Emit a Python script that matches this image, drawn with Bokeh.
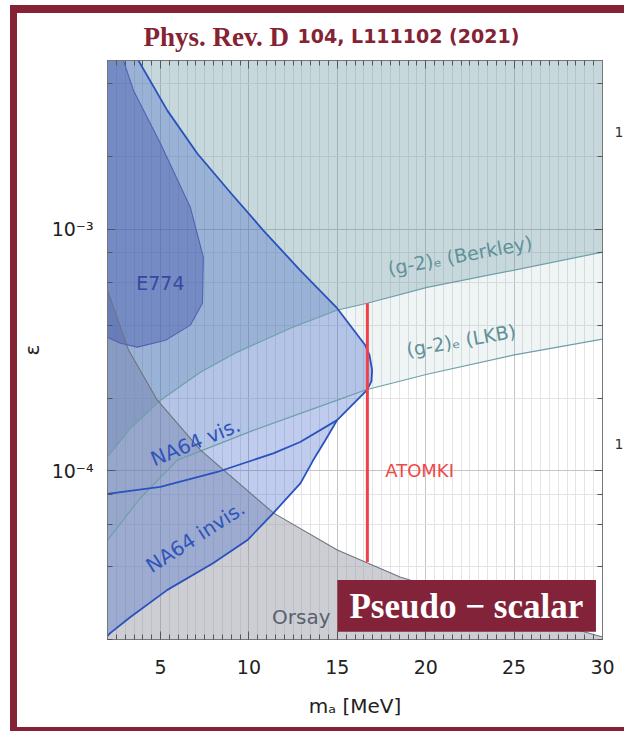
from bokeh.plotting import figure
from bokeh.models import (LinearAxis, LogAxis, SingleIntervalTicker, LogTicker,
                          Label, BoxAnnotation, Range1d, CustomJSTickFormatter)
from bokeh.embed import file_html
from bokeh.resources import INLINE

# ---------------- data ----------------
X_MIN, X_MAX = 2.0, 30.0
Y_MIN, Y_MAX = 2e-5, 5e-3

berkley_m = [2.0, 3.3, 5.0, 7.25, 9.34, 12.34, 14.97, 16.69, 20.08, 24.94, 30.0]
berkley_eps = [1.14e-4, 1.50e-4, 1.96e-4, 2.56e-4, 3.10e-4, 3.89e-4, 4.62e-4,
               4.94e-4, 5.75e-4, 6.76e-4, 8.04e-4]

lkb_m = [2.0, 3.86, 5.95, 10.25, 15.0, 16.58, 20.08, 24.94, 30.0]
lkb_eps = [5.16e-5, 7.71e-5, 1.107e-4, 1.47e-4, 1.96e-4, 2.16e-4, 2.51e-4,
           3.01e-4, 3.51e-4]

orsay_m = [2.0, 3.19, 4.82, 7.25, 11.38, 15.0, 18.55, 24.2, 30.0]
orsay_eps = [5.6e-4, 3.16e-4, 1.96e-4, 1.22e-4, 6.69e-5, 4.70e-5, 3.63e-5,
             2.70e-5, 2.05e-5]

na64_upper_m = [3.75, 5.39, 7.08, 8.95, 10.81, 12.90, 14.99, 16.58, 16.82, 16.97,
                16.93, 16.69, 14.99]
na64_upper_eps = [5.0e-3, 3.10e-3, 2.06e-3, 1.42e-3, 9.9e-4, 6.76e-4, 4.71e-4,
                  3.31e-4, 3.01e-4, 2.61e-4, 2.35e-4, 2.16e-4, 1.62e-4]
na64_mid_m = [14.99, 12.90, 11.38, 8.21, 4.99, 2.0]
na64_mid_eps = [1.62e-4, 1.315e-4, 1.18e-4, 9.88e-5, 8.57e-5, 8.02e-5]
na64_low_m = [14.99, 14.33, 13.64, 12.92, 11.38, 9.92, 7.99, 5.39, 3.30, 2.17, 2.0]
na64_low_eps = [1.62e-4, 1.34e-4, 1.107e-4, 8.89e-5, 6.68e-5, 5.16e-5, 4.15e-5,
                3.21e-5, 2.48e-5, 2.13e-5, 2.07e-5]

e774_m = [2.90, 3.47, 4.99, 6.69, 7.42, 7.37, 6.69, 5.28, 3.69, 2.73, 2.0]
e774_eps = [5.0e-3, 3.76e-3, 2.27e-3, 1.23e-3, 7.66e-4, 4.94e-4, 4.01e-4,
            3.47e-4, 3.25e-4, 3.37e-4, 3.57e-4]

atomki_m = [16.7, 16.7]
atomki_eps = [4.94e-4, 4.19e-5]

x_ticks_interval = 5
y_tick_labels = {0.001: "10⁻³", 0.0001: "10⁻⁴"}

# ---------------- colours ----------------
RED_FRAME = "#852234"
TEAL = "#5f8f99"
TEAL_LINE = "#6f9fa8"
BLUE = "#3c64c8"
BLUE_LINE = "#2a52bd"
E774_FILL = "#3c50aa"
GREY = "#8f92a0"

p = figure(width=624, height=731,
           x_range=Range1d(X_MIN, X_MAX), y_range=Range1d(Y_MIN, Y_MAX),
           y_axis_type="log", output_backend="svg", toolbar_location=None,
           min_border_left=107, min_border_right=22, min_border_top=60,
           min_border_bottom=92, background_fill_color="white",
           border_fill_alpha=0.0)
p.outline_line_color = "#888888"
# slide frame (dark-red bars at left, top and bottom), drawn behind the transparent border
p.styles = {
    "background-color": "#ffffff",
    "box-shadow": ("inset 10px 5px 0 0 #ffffff, inset 17px 13px 0 0 %s, "
                   "inset 0 -4px 0 0 %s") % (RED_FRAME, RED_FRAME),
}

xb = p.below[0]
yl = p.left[0]

p.xgrid.grid_line_color = "#c4c4c4"
p.xgrid.minor_grid_line_color = "#e4e4e4"
p.ygrid.grid_line_color = "#c4c4c4"
p.ygrid.minor_grid_line_color = "#e4e4e4"

xb.ticker = SingleIntervalTicker(interval=x_ticks_interval, num_minor_ticks=10)
yl.ticker = LogTicker()
yl.major_label_overrides = y_tick_labels

blank = CustomJSTickFormatter(code="return ''")
top_ax = LinearAxis(ticker=SingleIntervalTicker(interval=x_ticks_interval, num_minor_ticks=10),
                    formatter=blank, major_label_standoff=0)
right_ax = LogAxis(ticker=LogTicker(), formatter=blank, major_label_standoff=0)
p.add_layout(top_ax, "above")
p.add_layout(right_ax, "right")

for ax in (xb, yl, top_ax, right_ax):
    ax.major_tick_in = 8
    ax.major_tick_out = 0
    ax.minor_tick_in = 5
    ax.minor_tick_out = 0
    ax.axis_line_color = "#777777"
    ax.major_tick_line_color = "#555555"
    ax.minor_tick_line_color = "#555555"

for ax in (xb, yl):
    ax.major_label_text_font = "DejaVu Sans"
    ax.major_label_text_color = "#222222"
    ax.major_label_text_font_size = "19px"
    ax.axis_label_text_font = "DejaVu Sans"
    ax.axis_label_text_font_style = "normal"
    ax.axis_label_text_color = "#222222"
    ax.axis_label_text_font_size = "20px"

xb.axis_label = "mₐ [MeV]"
xb.major_label_standoff = 20
xb.axis_label_standoff = 17
yl.axis_label = "ε"
yl.major_label_standoff = 14
yl.axis_label_standoff = 5

# ---------------- regions ----------------
p.patch(lkb_m + [X_MAX, X_MIN], lkb_eps + [Y_MAX, Y_MAX],
        fill_color=TEAL, fill_alpha=0.10, line_color=None)
p.patch(berkley_m + [X_MAX, X_MIN], berkley_eps + [Y_MAX, Y_MAX],
        fill_color=TEAL, fill_alpha=0.28, line_color=None)
p.patch(orsay_m + [X_MAX, X_MIN], orsay_eps + [Y_MIN, Y_MIN],
        fill_color=GREY, fill_alpha=0.45, line_color=None)
p.patch(na64_upper_m + na64_mid_m[1:] + [X_MIN],
        na64_upper_eps + na64_mid_eps[1:] + [Y_MAX],
        fill_color=BLUE, fill_alpha=0.33, line_color=None)
p.patch(na64_low_m + na64_mid_m[::-1][:-1],
        na64_low_eps + na64_mid_eps[::-1][:-1],
        fill_color=BLUE, fill_alpha=0.33, line_color=None)
p.patch(e774_m + [X_MIN], e774_eps + [Y_MAX],
        fill_color=E774_FILL, fill_alpha=0.40, line_color=None)

p.line(lkb_m, lkb_eps, line_color=TEAL_LINE, line_width=1.2)
p.line(berkley_m, berkley_eps, line_color=TEAL_LINE, line_width=1.2)
p.line(orsay_m, orsay_eps, line_color="#70737f", line_width=1.1)
p.line(e774_m, e774_eps, line_color="#5561b3", line_width=1.1)
p.line(na64_upper_m + na64_low_m[1:], na64_upper_eps + na64_low_eps[1:],
       line_color=BLUE_LINE, line_width=1.8)
p.line(na64_mid_m, na64_mid_eps, line_color=BLUE_LINE, line_width=1.8)
p.line(atomki_m, atomki_eps, line_color="#f0404a", line_width=3)

# ---------------- labels ----------------
def lab(x, y, t, color, size, angle=0, align="center", font="DejaVu Sans",
        style="normal", baseline="middle", place="center"):
    p.add_layout(Label(x=x, y=y, text=t, text_color=color, text_font=font,
                       text_font_size=size, text_font_style=style,
                       angle=angle, angle_units="deg",
                       text_align=align, text_baseline=baseline), place)

lab(21.94, 7.8e-4, "(g-2)ₑ (Berkley)", "#5f9199", "19px", 10.5)
lab(22.0, 3.47e-4, "(g-2)ₑ (LKB)", "#5f9199", "19px", 10.0)
lab(4.99, 5.98e-4, "E774", "#3a46a0", "19px")
lab(6.97, 1.315e-4, "NA64 vis.", "#2f55bb", "20px", 22.5)
lab(6.97, 5.32e-5, "NA64 invis.", "#2f55bb", "20px", 33)
lab(17.71, 1.0e-4, "ATOMKI", "#f04848", "18px", 0, "left")
lab(12.96, 2.48e-5, "Orsay", "#5a5f73", "20px")

p.add_layout(BoxAnnotation(left=15.0, right=29.63, bottom=2.155e-5, top=3.53e-5,
                           fill_color="#83233a", fill_alpha=1.0, line_color=None))
lab(22.3, 2.75e-5, "Pseudo − scalar", "white", "35px", font="Liberation Serif", style="bold")

# ---------------- title (side panels are not clipped) ----------------
lab(4.036, 6.23e-3, "Phys. Rev. D", RED_FRAME, "27px", 0, "left",
    "Liberation Serif", "bold", "middle", "above")
lab(12.75, 6.29e-3, "104, L111102 (2021)", RED_FRAME, "19px", 0, "left",
    "DejaVu Sans", "bold", "middle", "above")

lab(30.68, 2.52e-3, "1", "#333333", "14px", 0, "left", baseline="alphabetic", place="right")
lab(30.68, 1.29e-4, "1", "#333333", "14px", 0, "left", baseline="alphabetic", place="right")

open("out.html", "w").write(file_html(p, INLINE))
